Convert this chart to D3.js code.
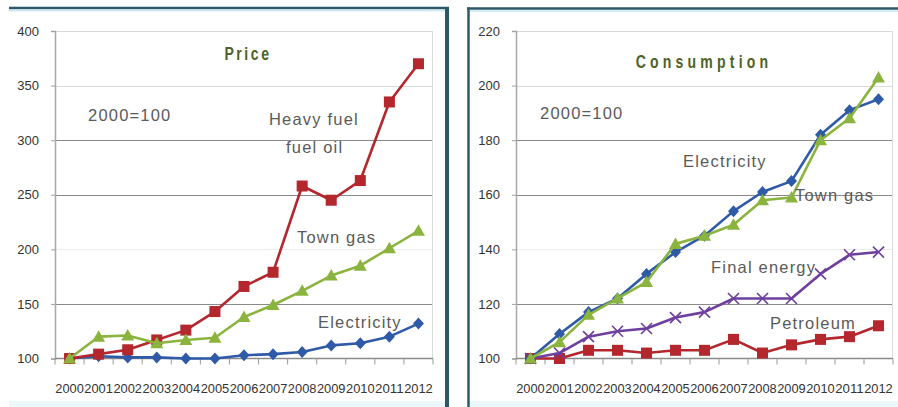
<!DOCTYPE html>
<html>
<head>
<meta charset="utf-8">
<script src="https://cdn.jsdelivr.net/npm/d3@7/dist/d3.min.js"></script>
<style>
  html, body { margin: 0; padding: 0; background: #ffffff; }
  svg { display: block; }
  text { font-family: "Liberation Sans", Arial, sans-serif; }
</style>
</head>
<body>
<svg id="chart" width="898" height="407"></svg>
<script>
// Categories (years)
const years = ["2000","2001","2002","2003","2004","2005","2006","2007","2008","2009","2010","2011","2012"];

// Price index, 2000 = 100
const priceHeavyFuel   = [100, 104, 108, 117, 126, 143, 166, 179, 258, 245, 263, 335, 370];
const priceTownGas     = [100, 120, 121, 114, 117, 119, 138, 149, 162, 176, 185, 201, 217];
const priceElectricity = [100, 102, 101, 101, 100, 100, 103, 104, 106, 112, 114, 120, 132];

// Consumption index, 2000 = 100
const consElectricity  = [100, 109, 117, 122, 131, 139, 145, 154, 161, 165, 182, 191, 195];
const consTownGas      = [100, 106, 116, 122, 128, 142, 145, 149, 158, 159, 180, 188, 203];
const consFinalEnergy  = [100, 102, 108, 110, 111, 115, 117, 122, 122, 122, 131, 138, 139];
const consPetroleum    = [100, 100, 103, 103, 102, 103, 103, 107, 102, 105, 107, 108, 112];

// Tick labels
const priceTicks = [100, 150, 200, 250, 300, 350, 400];
const consTicks  = [100, 120, 140, 160, 180, 200, 220];

const svg = d3.select("#chart");

const COLORS = {
  red: "#b3272d",
  green: "#8ab43e",
  blue: "#2f5aa8",
  purple: "#6d3f9e",
  frame: "#2c5869",
  frameLight: "#c4e8ef",
  text: "#5a5a5a",
  title: "#4f6228"
};

// Gridline shade per tick (bottom to top)
const gridShades = ["none", "#8a8a8a", "#ececec", "#8a8a8a", "#8a8a8a", "#dadada", "#dadada"];

// Panel frames
function frames() {
  const g = svg.append("g");
  // bottom tint strip
  g.append("rect").attr("x", 9).attr("y", 401).attr("width", 436).attr("height", 6).attr("fill", "#eaf8fb");
  g.append("rect").attr("x", 470).attr("y", 401).attr("width", 428).attr("height", 6).attr("fill", "#eaf8fb");
  // left panel: top and right edges
  g.append("line").attr("x1", 9).attr("x2", 449).attr("y1", 8).attr("y2", 8)
    .attr("stroke", COLORS.frame).attr("stroke-width", 2.5);
  g.append("line").attr("x1", 9).attr("x2", 445).attr("y1", 10.5).attr("y2", 10.5)
    .attr("stroke", COLORS.frameLight).attr("stroke-width", 1.5);
  g.append("line").attr("x1", 447).attr("x2", 447).attr("y1", 7).attr("y2", 407)
    .attr("stroke", COLORS.frame).attr("stroke-width", 4);
  // right panel: top and left edges
  g.append("line").attr("x1", 467).attr("x2", 898).attr("y1", 8.5).attr("y2", 8.5)
    .attr("stroke", COLORS.frame).attr("stroke-width", 2.5);
  g.append("line").attr("x1", 470).attr("x2", 898).attr("y1", 11).attr("y2", 11)
    .attr("stroke", COLORS.frameLight).attr("stroke-width", 1.5);
  g.append("line").attr("x1", 468.5).attr("x2", 468.5).attr("y1", 7.5).attr("y2", 407)
    .attr("stroke", COLORS.frame).attr("stroke-width", 2.5);
}

function marker(g, type, color, x, y) {
  if (type === "square") {
    g.append("rect").attr("x", x - 5.5).attr("y", y - 5.5).attr("width", 11).attr("height", 11).attr("fill", color);
  } else if (type === "triangle") {
    g.append("path").attr("d", `M${x},${y - 6.5}L${x + 6.5},${y + 5}L${x - 6.5},${y + 5}Z`).attr("fill", color);
  } else if (type === "diamond") {
    g.append("path").attr("d", `M${x},${y - 6}L${x + 5.5},${y}L${x},${y + 6}L${x - 5.5},${y}Z`).attr("fill", color);
  } else if (type === "x") {
    g.append("path").attr("d", `M${x - 5.5},${y - 5.5}L${x + 5.5},${y + 5.5}M${x - 5.5},${y + 5.5}L${x + 5.5},${y - 5.5}`)
      .attr("stroke", color).attr("stroke-width", 1.6).attr("fill", "none");
  }
}

function panel(opts) {
  const { x0, x1, y0, y1, ticks, series, title, titleX, titleY, titleSpacing, notes } = opts;
  const g = svg.append("g");

  const x = d3.scaleBand().domain(years).range([x0, x1]);
  const y = d3.scaleLinear().domain([ticks[0], ticks[ticks.length - 1]]).range([y1, y0]);

  // gridlines
  g.selectAll("line.grid").data(ticks).join("line")
    .attr("x1", x0).attr("x2", x1)
    .attr("y1", d => Math.round(y(d)) + 0.5).attr("y2", d => Math.round(y(d)) + 0.5)
    .attr("stroke", (d, i) => gridShades[i])
    .attr("stroke-width", 1.2);

  // right plot edge
  g.append("line").attr("x1", x1 - 0.5).attr("x2", x1 - 0.5).attr("y1", y0).attr("y2", y1)
    .attr("stroke", "#dcdcdc").attr("stroke-width", 1);

  // y axis
  const yAxis = d3.axisLeft(y).tickValues(ticks).tickSize(4).tickPadding(12);
  const ya = g.append("g").attr("transform", `translate(${x0},0)`).call(yAxis);
  ya.select(".domain").attr("stroke", "#a8a8a8").attr("stroke-width", 1.5);
  ya.selectAll(".tick line").attr("stroke", "#a0a0a0");
  ya.selectAll(".tick text").attr("fill", "#333").attr("font-size", 13)
    .attr("font-family", "'Liberation Sans', Arial, sans-serif");

  // x axis with ticks at category boundaries
  const xa = g.append("g").attr("transform", `translate(0,${y1})`);
  xa.append("line").attr("x1", x0).attr("x2", x1).attr("y1", 0).attr("y2", 0)
    .attr("stroke", "#8a8a8a").attr("stroke-width", 1.5);
  const bounds = years.map(d => x(d)).concat([x1]);
  xa.selectAll("line.tk").data(bounds).join("line")
    .attr("x1", d => d).attr("x2", d => d).attr("y1", 0).attr("y2", 6)
    .attr("stroke", "#9a9a9a").attr("stroke-width", 1);
  xa.selectAll("text").data(years).join("text")
    .attr("x", d => x(d) + x.bandwidth() / 2)
    .attr("y", 34)
    .attr("text-anchor", "middle")
    .attr("font-size", 13)
    .attr("fill", "#333")
    .attr("textLength", x.bandwidth() - 0.5)
    .attr("lengthAdjust", "spacingAndGlyphs")
    .text(d => d);

  // series lines and markers
  const cx = d => x(d) + x.bandwidth() / 2;
  series.forEach(s => {
    const pts = years.map((yr, i) => [cx(yr), y(s.values[i])]);
    g.append("path").attr("d", d3.line()(pts))
      .attr("fill", "none").attr("stroke", s.color).attr("stroke-width", 2.6)
      .attr("stroke-linejoin", "round");
    const mg = g.append("g");
    pts.forEach(p => marker(mg, s.marker, s.color, p[0], p[1]));
  });

  // title: condensed, tracked-out bold lettering
  g.append("text")
    .attr("transform", `translate(${titleX},${titleY}) scale(0.78,1)`)
    .attr("text-anchor", "middle")
    .attr("font-size", 18).attr("font-weight", "bold")
    .attr("letter-spacing", titleSpacing)
    .attr("fill", COLORS.title)
    .text(title);

  // annotations
  notes.forEach(n => {
    g.append("text").attr("x", n.x).attr("y", n.y)
      .attr("text-anchor", "start")
      .attr("font-size", 16.5)
      .attr("letter-spacing", 1.2)
      .attr("fill", COLORS.text)
      .text(n.text);
  });
}

frames();

panel({
  x0: 55, x1: 433, y0: 31, y1: 358.5,
  ticks: priceTicks,
  title: "Price", titleX: 248, titleY: 60, titleSpacing: 3.3,
  series: [
    { values: priceElectricity, color: COLORS.blue,  marker: "diamond" },
    { values: priceHeavyFuel,   color: COLORS.red,   marker: "square" },
    { values: priceTownGas,     color: COLORS.green, marker: "triangle" }
  ],
  notes: [
    { text: "2000=100",    x: 88,  y: 121 },
    { text: "Heavy fuel",  x: 269, y: 125 },
    { text: "fuel oil",    x: 286, y: 153 },
    { text: "Town gas",    x: 297, y: 243 },
    { text: "Electricity", x: 318, y: 328 }
  ]
});

panel({
  x0: 516, x1: 893, y0: 31, y1: 358.5,
  ticks: consTicks,
  title: "Consumption", titleX: 704, titleY: 68, titleSpacing: 5.4,
  series: [
    { values: consPetroleum,   color: COLORS.red,    marker: "square" },
    { values: consFinalEnergy, color: COLORS.purple, marker: "x" },
    { values: consElectricity, color: COLORS.blue,   marker: "diamond" },
    { values: consTownGas,     color: COLORS.green,  marker: "triangle" }
  ],
  notes: [
    { text: "2000=100",     x: 540, y: 119 },
    { text: "Electricity",  x: 683, y: 167 },
    { text: "Town gas",     x: 795, y: 201 },
    { text: "Final energy", x: 711, y: 273 },
    { text: "Petroleum",    x: 770, y: 329 }
  ]
});
</script>
</body>
</html>
